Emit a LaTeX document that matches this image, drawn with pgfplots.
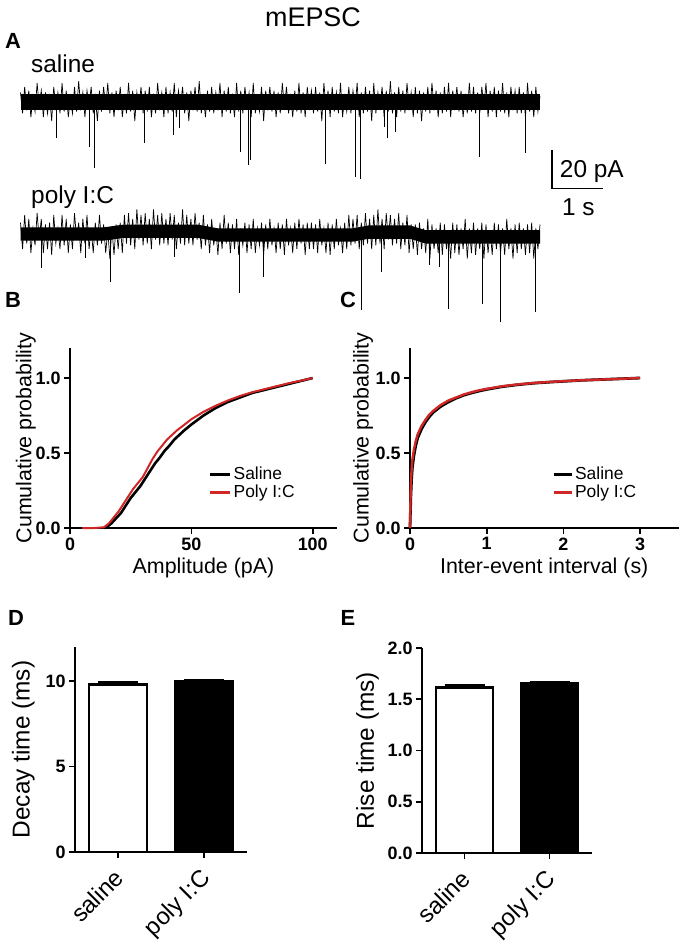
\documentclass[border=0pt]{standalone}
\usepackage{fontspec}
\setmainfont{Liberation Sans}
\usepackage{pgfplots}
\pgfplotsset{compat=1.18}
\usepackage{pgfplotstable}
\definecolor{pred}{RGB}{208,38,38}
\newcommand{\fs}[1]{\fontsize{#1}{#1}\selectfont}

\pgfplotstableread{
t s p
0.00 5 6
0.04 -6 -8
0.08 8 10
0.12 -3 -5
0.16 6 8
0.20 -8 -10
0.24 3 3
0.28 -5 -6
0.32 10 11
0.36 -2 -3
0.40 6 8
0.44 -8 -10
0.48 5 5
0.52 -6 -8
0.56 3 6
0.60 -10 -11
0.64 8 10
0.68 -3 -5
0.72 5 3
0.76 -6 -8
0.80 10 10
0.84 -5 -6
0.88 6 8
0.92 -8 -10
0.96 2 5
1.00 -6 -8
1.04 8 11
1.08 -5 -3
1.12 11 6
1.16 -3 -10
1.20 5 8
1.24 -8 -5
1.28 6 10
1.32 -2 -8
1.36 8 3
1.40 -6 -10
1.44 3 6
1.48 -10 -6
1.52 6 10
1.56 -5 -5
1.60 8 5
1.64 -3 -10
1.68 10 2
1.72 -6 -13
1.76 5 3
1.80 -8 -11
1.84 6 5
1.88 -3 -8
1.92 8 6
1.96 -8 -10
2.00 3 10
2.04 -6 -5
2.08 10 11
2.12 -5 -6
2.16 6 8
2.20 -10 -8
2.24 5 13
2.28 -3 -3
2.32 8 10
2.36 -6 -6
2.40 6 11
2.44 -5 -5
2.48 8 8
2.52 -8 -8
2.56 3 13
2.60 -6 -3
2.64 10 10
2.68 -3 -6
2.72 5 11
2.76 -8 -5
2.80 8 8
2.84 -6 -6
2.88 5 11
2.92 -5 -3
2.96 10 10
3.00 -8 -8
3.04 6 6
3.08 -2 -5
3.12 8 13
3.16 -6 -6
3.20 5 10
3.24 -10 -5
3.28 6 8
3.32 -3 -6
3.36 8 11
3.40 -5 -3
3.44 11 6
3.48 -6 -8
3.52 3 10
3.56 -8 -6
3.60 6 5
3.64 -5 -10
3.68 8 8
3.72 -6 -6
3.76 5 3
3.80 -3 -11
3.84 10 6
3.88 -8 -8
3.92 6 10
3.96 -5 -5
4.00 8 6
4.04 -6 -10
4.08 3 5
4.12 -8 -8
4.16 10 8
4.20 -5 -11
4.24 6 3
4.28 -6 -6
4.32 8 6
4.36 -3 -10
4.40 5 5
4.44 -8 -8
4.48 10 8
4.52 -6 -10
4.56 3 3
4.60 -5 -6
4.64 8 6
4.68 -10 -11
4.72 6 5
4.76 -3 -8
4.80 8 8
4.84 -5 -6
4.88 6 3
4.92 -8 -10
4.96 5 6
5.00 -6 -8
5.04 10 5
5.08 -3 -11
5.12 8 8
5.16 -6 -6
5.20 3 3
5.24 -8 -10
5.28 6 6
5.32 -5 -8
5.36 10 8
5.40 -6 -5
5.44 5 5
5.48 -8 -11
5.52 8 6
5.56 -3 -8
5.60 6 6
5.64 -6 -8
5.68 8 5
5.72 -5 -10
5.76 5 8
5.80 -10 -6
5.84 10 3
5.88 -3 -10
5.92 6 6
5.96 -8 -11
6.00 8 5
6.04 -5 -8
6.08 5 8
6.12 -6 -6
6.16 10 3
6.20 -8 -10
6.24 3 6
6.28 -5 -8
6.32 8 10
6.36 -6 -6
6.40 6 8
6.44 -3 -5
6.48 10 10
6.52 -8 -8
6.56 5 6
6.60 -6 -6
6.64 8 11
6.68 -5 -5
6.72 6 8
6.76 -10 -8
6.80 10 10
6.84 -6 -6
6.88 5 13
6.92 -3 -5
6.96 8 8
7.00 -8 -8
7.04 6 11
7.08 -5 -3
7.12 11 10
7.16 -6 -6
7.20 5 8
7.24 -8 -5
7.28 8 11
7.32 -5 -8
7.36 6 6
7.40 -6 -6
7.44 10 10
7.48 -3 -10
7.52 5 5
7.56 -8 -8
7.60 8 5
7.64 -6 -11
7.68 6 6
7.72 -10 -8
7.76 5 3
7.80 -5 -10
7.84 8 8
7.88 -6 -13
7.92 10 5
7.96 -3 -8
8.00 6 3
8.04 -8 -10
8.08 5 6
8.12 -6 -11
8.16 8 5
8.20 -5 -8
8.24 10 2
8.28 -8 -13
8.32 6 6
8.36 -3 -10
8.40 8 5
8.44 -5 -11
8.48 6 3
8.52 -8 -8
8.56 3 8
8.60 -6 -13
8.64 10 3
8.68 -5 -10
8.72 8 6
8.76 -6 -11
8.80 5 3
8.84 -6 -8
8.88 8 6
8.92 -3 -13
8.96 10 5
9.00 -8 -10
9.04 6 2
9.08 -5 -11
9.12 8 6
9.16 -8 -8
9.20 6 5
9.24 -5 -10
9.28 10 3
9.32 -6 -11
9.36 5 8
9.40 -8 -8
9.44 8 3
9.48 -3 -13
9.52 6 5
9.56 -6 -10
9.60 8 6
9.64 -6 -8
9.68 5 3
9.72 -8 -11
9.76 10 5
9.80 -5 -10
9.84 6 6
9.88 -8 -13
9.92 8 3
9.96 -5 -8
10.00 3 5
}\trace

\pgfplotsset{
  prism/.style={
    scale only axis,
    axis x line=bottom, axis y line=left,
    axis line style={line width=1.6bp,-},
    every tick/.style={line width=1.6bp, black},
    tick align=outside,
    major tick length=6bp,
    tick label style={font=\fs{18}\bfseries},
    label style={font=\fs{21.5}},
    clip=false,
  },
}

\begin{document}
\begin{tikzpicture}
\path[use as bounding box] (0,0) rectangle (685bp,-950bp);

\node[font=\fs{27}] at (313bp,-17bp) {mEPSC};
\node[font=\fs{22}\bfseries] at (13bp,-41bp) {A};
\node[font=\fs{22}\bfseries] at (13bp,-300bp) {B};
\node[font=\fs{22}\bfseries] at (348bp,-300bp) {C};
\node[font=\fs{22}\bfseries] at (16bp,-618bp) {D};
\node[font=\fs{22}\bfseries] at (348bp,-618bp) {E};
\node[font=\fs{24.5}, anchor=base west, inner sep=0pt] at (31bp,-72bp) {saline};
\node[font=\fs{24.5}, anchor=base west, inner sep=0pt] at (31bp,-203bp) {poly I:C};

% ---- A: saline trace
\begin{axis}[scale only axis, width=519.5bp, height=110.2bp,
  at={(20.5bp,-189.4bp)}, anchor=south west,
  xmin=0, xmax=10, ymin=-46, ymax=12, hide axis, clip=false]
\addplot[fill=black, draw=none] coordinates {(0,-4) (10,-4) (10,4) (0,4)} -- cycle;
\addplot[black, line width=0.7bp] table[x=t, y=s] {\trace};
\addplot[ycomb, black, line width=0.8bp, mark=none] coordinates {
(0.70,-18.9) (1.32,-23.7) (1.43,-34.7) (2.38,-21.6) (2.94,-17.4) (3.05,-13.7)
(4.23,-26.3) (4.38,-33.2) (4.42,-30.5) (5.86,-32.6) (6.44,-39.5) (6.55,-40.5)
(7.00,-13.2) (7.07,-18.9) (7.21,-15.8) (8.84,-28.9) (9.71,-26.8)};
% scale bar
\addplot[black, line width=1.1bp] coordinates {(10.23,-25.3) (10.23,-45.3) (11.21,-45.3)};
\node[font=\fs{24.5}, anchor=west, inner sep=0pt] at (axis cs:10.38,-36.8) {20 pA};
\node[font=\fs{24.5}, anchor=west, inner sep=0pt] at (axis cs:10.42,-55.3) {1 s};
\end{axis}

% ---- A: poly I:C trace
\begin{axis}[scale only axis, width=519.5bp, height=117.8bp,
  at={(20.5bp,-329bp)}, anchor=south west,
  xmin=0, xmax=10, ymin=-50, ymax=12, hide axis, clip=false]
\addplot[fill=black, draw=none] coordinates {(0,3.5) (1.6,3.5) (2.0,5) (3.4,5) (3.8,3) (6.4,3) (6.7,4.5) (7.5,4.5) (7.8,2) (10,2) (10,-5) (7.8,-5) (7.5,-2.5) (6.7,-2.5) (6.4,-4) (3.8,-4) (3.4,-2) (2.0,-2) (1.6,-3.5) (0,-3.5)} -- cycle;
\addplot[black, line width=0.7bp] table[x=t, y=p] {\trace};
\addplot[ycomb, black, line width=0.8bp, mark=none] coordinates {
(0.41,-17.9) (1.24,-12.6) (1.74,-25.3) (2.97,-12.1) (4.21,-31.1) (4.67,-22.6)
(6.57,-40) (6.94,-20) (7.88,-16.3) (8.07,-17.4) (8.23,-39.5) (8.90,-36.8)
(9.23,-46.3) (9.92,-41)};
\end{axis}

% ---- B
\begin{axis}[prism, width=267bp, height=180bp, at={(70bp,-528bp)}, anchor=south west,
  xmin=0, xmax=110, ymin=0, ymax=1.2,
  xtick={0,50,100}, xticklabels={0,50,100},
  ytick={0,0.5,1}, yticklabels={0.0,0.5,1.0},
  xlabel={Amplitude (pA)}, ylabel={Cumulative probability},
  ylabel style={at={(axis description cs:-0.165,0.5)}, anchor=center},
  xlabel style={at={(axis description cs:0.5,-0.22)}, anchor=center},
  legend style={draw=none, fill=none, at={(0.52,0.35)}, anchor=north west, font=\fs{17.5}, inner sep=0pt, row sep=0bp},
  legend cell align=left,
  legend image code/.code={\draw[#1, line width=2.6bp] (0bp,0bp) -- (20bp,0bp);}]
\addplot[black, line width=2.6bp] coordinates {
(14,0) (15,0.005) (17,0.03) (19,0.065) (21,0.10) (23,0.15) (25,0.20) (27,0.24) (29,0.28) (31,0.33) (33,0.38) (35,0.43) (37,0.47) (39,0.515) (41,0.55) (43,0.59) (45,0.62) (47,0.65) (50,0.69) (55,0.75) (60,0.80) (65,0.84) (70,0.87) (75,0.90) (80,0.92) (85,0.94) (90,0.96) (95,0.98) (100,1.0)};
\addlegendentry{Saline}
\addplot[pred, line width=2bp] coordinates {
(5,0) (10,0) (14,0.005) (16,0.03) (18,0.07) (20,0.11) (22,0.16) (24,0.21) (26,0.26) (28,0.30) (30,0.34) (32,0.40) (34,0.46) (36,0.51) (38,0.55) (40,0.59) (42,0.62) (44,0.65) (46,0.675) (48,0.70) (50,0.725) (55,0.775) (60,0.815) (65,0.85) (70,0.88) (75,0.905) (80,0.925) (85,0.945) (90,0.965) (95,0.982) (100,1.0)};
\addlegendentry{Poly I:C}
\end{axis}

% ---- C
\begin{axis}[prism, width=268.5bp, height=180bp, at={(410bp,-528bp)}, anchor=south west,
  xmin=0, xmax=3.5, ymin=0, ymax=1.2,
  xtick={0,1,2,3}, xticklabels={0,1,2,3},
  ytick={0,0.5,1}, yticklabels={0.0,0.5,1.0},
  xlabel={Inter-event interval (s)}, ylabel={Cumulative probability},
  ylabel style={at={(axis description cs:-0.175,0.5)}, anchor=center},
  xlabel style={at={(axis description cs:0.5,-0.22)}, anchor=center},
  legend style={draw=none, fill=none, at={(0.53,0.35)}, anchor=north west, font=\fs{17.5}, inner sep=0pt, row sep=0bp},
  legend cell align=left,
  legend image code/.code={\draw[#1, line width=2.6bp] (0bp,0bp) -- (18bp,0bp);}]
\addplot[black, line width=2.8bp] coordinates {
(0,0) (0.005,0.10) (0.01,0.2) (0.02,0.32) (0.03,0.40) (0.05,0.48) (0.075,0.55) (0.1,0.60) (0.15,0.66) (0.2,0.705) (0.25,0.74) (0.3,0.77) (0.4,0.81) (0.5,0.84) (0.6,0.865) (0.7,0.885) (0.8,0.90) (0.9,0.913) (1.0,0.924) (1.2,0.942) (1.4,0.955) (1.6,0.965) (1.8,0.972) (2.0,0.978) (2.25,0.985) (2.5,0.99) (2.75,0.995) (3.0,1.0)};
\addlegendentry{Saline}
\addplot[pred, line width=2.4bp] coordinates {
(0,0) (0.005,0.15) (0.01,0.28) (0.02,0.38) (0.03,0.45) (0.05,0.52) (0.075,0.58) (0.1,0.625) (0.15,0.68) (0.2,0.72) (0.25,0.755) (0.3,0.78) (0.4,0.82) (0.5,0.85) (0.6,0.87) (0.7,0.89) (0.8,0.905) (0.9,0.918) (1.0,0.928) (1.2,0.945) (1.4,0.957) (1.6,0.966) (1.8,0.973) (2.0,0.979) (2.25,0.985) (2.5,0.99) (2.75,0.995) (3.0,1.0)};
\addlegendentry{Poly I:C}
\end{axis}

% ---- D
\begin{axis}[prism, width=172bp, height=205bp, at={(75bp,-852bp)}, anchor=south west,
  xmin=-0.5, xmax=1.5, ymin=0, ymax=12,
  xtick={0,1}, xticklabels={saline,poly I:C},
  ytick={0,5,10}, yticklabels={0,5,10},
  ylabel={Decay time (ms)},
  label style={font=\fs{24.5}},
  ylabel style={at={(axis description cs:-0.30,0.5)}, anchor=center},
  x tick label style={rotate=45, anchor=north east, font=\fs{24}, inner sep=1bp, xshift=-9bp, yshift=-2bp}]
\addplot[ybar, bar width=58bp, bar shift=0pt, fill=white, draw=black, line width=2.6bp,
  error bars/.cd, y dir=plus, y explicit, error bar style={line width=2bp},
  error mark options={rotate=90, mark size=20bp, line width=2bp}]
  coordinates {(0,9.82) +- (0,0.12)};
\addplot[ybar, bar width=58bp, bar shift=0pt, fill=black, draw=black, line width=2.6bp,
  error bars/.cd, y dir=plus, y explicit, error bar style={line width=2bp},
  error mark options={rotate=90, mark size=20bp, line width=2bp}]
  coordinates {(1,9.97) +- (0,0.08)};
\end{axis}

% ---- E
\begin{axis}[prism, width=170bp, height=205bp, at={(422bp,-853bp)}, anchor=south west,
  xmin=-0.5, xmax=1.5, ymin=0, ymax=2,
  xtick={0,1}, xticklabels={saline,poly I:C},
  ytick={0,0.5,1,1.5,2}, yticklabels={0.0,0.5,1.0,1.5,2.0},
  ylabel={Rise time (ms)},
  label style={font=\fs{24.5}},
  ylabel style={at={(axis description cs:-0.32,0.5)}, anchor=center},
  x tick label style={rotate=45, anchor=north east, font=\fs{24}, inner sep=1bp, xshift=-9bp, yshift=-2bp}]
\addplot[ybar, bar width=57bp, bar shift=0pt, fill=white, draw=black, line width=2.6bp,
  error bars/.cd, y dir=plus, y explicit, error bar style={line width=2bp},
  error mark options={rotate=90, mark size=20bp, line width=2bp}]
  coordinates {(0,1.615) +- (0,0.02)};
\addplot[ybar, bar width=57bp, bar shift=0pt, fill=black, draw=black, line width=2.6bp,
  error bars/.cd, y dir=plus, y explicit, error bar style={line width=2bp},
  error mark options={rotate=90, mark size=20bp, line width=2bp}]
  coordinates {(1,1.652) +- (0,0.012)};
\end{axis}
\end{tikzpicture}
\end{document}
